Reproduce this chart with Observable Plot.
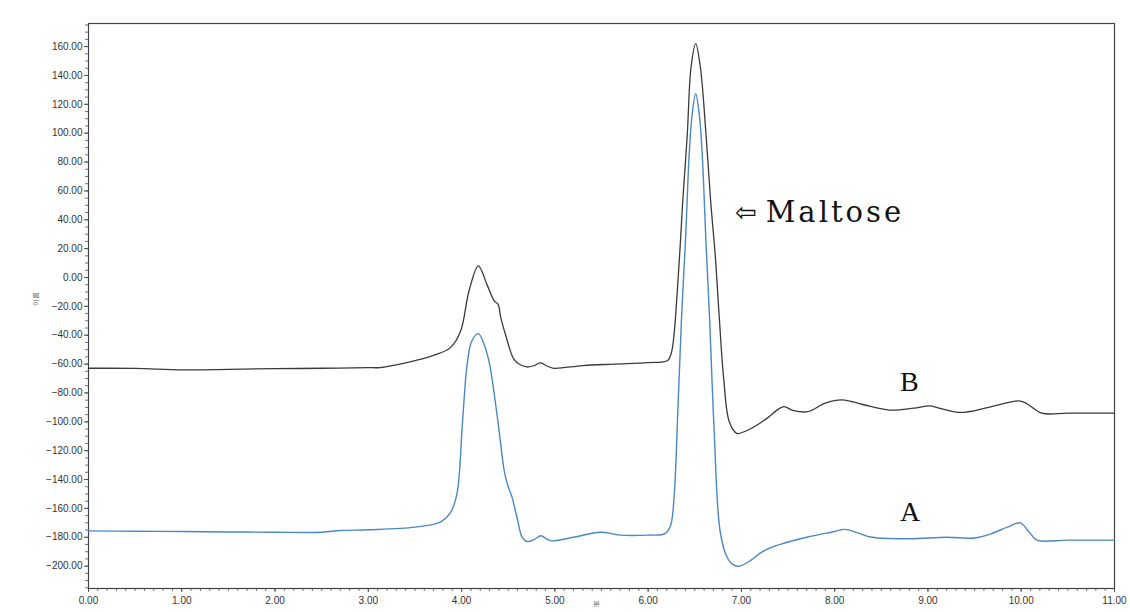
<!DOCTYPE html>
<html><head><meta charset="utf-8">
<script src="https://cdn.jsdelivr.net/npm/d3@7"></script>
<script src="https://cdn.jsdelivr.net/npm/@observablehq/plot@0.6"></script>
<style>body{margin:0;background:#fff;}</style>
</head><body><div id="chart"></div>
<script>
// Series B (black trace): retention time (min) and response
const timeB = [0, 0.5, 1.0, 1.5, 2.0, 2.5, 3.0, 3.13, 3.3, 3.49, 3.7, 3.88, 3.99, 4.08, 4.18, 4.27, 4.35, 4.39, 4.42, 4.48, 4.56, 4.63, 4.70, 4.78, 4.85, 4.92, 4.99, 5.3, 5.64, 6.0, 6.21, 6.25, 6.28, 6.31, 6.34, 6.37, 6.42, 6.46, 6.51, 6.56, 6.62, 6.67, 6.72, 6.76, 6.81, 6.87, 6.95, 7.06, 7.27, 7.40, 7.46, 7.55, 7.71, 7.90, 8.08, 8.30, 8.59, 8.85, 9.02, 9.15, 9.35, 9.65, 9.97, 10.05, 10.22, 10.5, 11.0];
const valB  = [-62.9, -63, -64, -63.6, -63.2, -62.9, -62.5, -62.4, -60.5, -57.8, -54, -48.6, -37, -9.2, 8.1, -4.6, -16.2, -18.5, -27.8, -41.6, -56.6, -60.5, -62, -61, -59.2, -61.5, -62.9, -61, -60, -59, -57.5, -52, -38, -12, 18, 52, 99.5, 145.7, 162, 145.7, 99.5, 53, 15, -25, -70, -100, -108, -106, -97.8, -91, -89.5, -92, -93, -87, -84.8, -88, -91.9, -90.5, -89, -91, -93.5, -90, -85.5, -87, -94, -94, -94];

// Series A (blue trace)
const timeA = [0, 0.5, 1.0, 1.5, 2.0, 2.5, 2.7, 3.0, 3.5, 3.77, 3.88, 3.95, 4.01, 4.06, 4.11, 4.18, 4.25, 4.30, 4.39, 4.46, 4.50, 4.54, 4.60, 4.65, 4.71, 4.78, 4.85, 4.92, 4.97, 5.2, 5.49, 5.7, 6.0, 6.18, 6.24, 6.28, 6.32, 6.36, 6.40, 6.44, 6.47, 6.51, 6.55, 6.58, 6.62, 6.66, 6.71, 6.77, 6.84, 6.91, 6.98, 7.1, 7.2, 7.32, 7.46, 7.7, 8.0, 8.11, 8.25, 8.4, 8.8, 9.2, 9.5, 9.68, 9.85, 9.99, 10.08, 10.17, 10.5, 11.0];
const valA  = [-175.6, -175.8, -176, -176.3, -176.5, -176.5, -175.3, -174.8, -173, -169.5, -163, -150, -100, -60, -44, -38.9, -48, -60, -100, -135, -145, -152, -168, -180, -183, -181.5, -179, -181.5, -182.5, -180, -176.5, -178.5, -178.5, -177.5, -172, -150, -90, -25, 25, 85, 112, 127.3, 112, 85, 25, -30, -110, -175, -193, -199, -200, -196, -191, -187, -184, -180, -176, -174.5, -177, -180, -181, -180, -180.5, -177.5, -173, -170, -176, -182, -182, -182];

// Axis ticks
const xTicks = [0, 1, 2, 3, 4, 5, 6, 7, 8, 9, 10, 11];
const yTicks = [-200, -180, -160, -140, -120, -100, -80, -60, -40, -20, 0, 20, 40, 60, 80, 100, 120, 140, 160];

// Annotations
const labelText = ["B", "A"];
const labelX = [8.80, 8.81];
const labelY = [-72.4, -162.6];
const arrowText = ["\u21E6"];
const arrowX = [6.93];
const noteText = ["Maltose"];
const noteX = [7.26];
const noteY = [44.9];
const xTitle = ["분"];
const yTitle = ["이름"];

const dataB = timeB.map((t, i) => ({t, v: valB[i]}));
const dataA = timeA.map((t, i) => ({t, v: valA[i]}));
const labels = labelText.map((s, i) => ({s, x: labelX[i], y: labelY[i]}));
const arrows = arrowText.map((s, i) => ({s, x: arrowX[i], y: noteY[i]}));
const notes = noteText.map((s, i) => ({s, x: noteX[i], y: noteY[i]}));

const xMinor = d3.range(0, 11.0001, 0.1).map(d => +d.toFixed(2));
const yMinor = d3.range(-215, 176, 5);

const chart = Plot.plot({
  width: 1130,
  height: 612,
  marginLeft: 88,
  marginRight: 16,
  marginTop: 23,
  marginBottom: 24,
  style: {fontFamily: "'Liberation Sans', Arial, sans-serif", fontSize: "10px", color: "#333", background: "#fff"},
  x: {domain: [0, 11]},
  y: {domain: [-215.5, 176]},
  marks: [
    Plot.axisX(xMinor, {tickSize: 3, text: null, stroke: "#777", strokeWidth: 1, label: null}),
    Plot.axisY(yMinor, {tickSize: 3, text: null, stroke: "#777", strokeWidth: 1, label: null}),
    Plot.axisX(xTicks, {tickSize: 4, tickPadding: 4, tickFormat: d3.format(".2f"), stroke: "#555", label: null, fontSize: 10}),
    Plot.axisY(yTicks, {tickSize: 4, tickPadding: 2, tickFormat: d3.format(".2f"), stroke: "#555", label: null, fontSize: 10}),
    Plot.text(xTitle, {x: 5.45, frameAnchor: "bottom", dy: 17, fontSize: 7, fill: "#555"}),
    Plot.text(yTitle, {y: -20, frameAnchor: "left", dx: -53, rotate: -90, fontSize: 7, fill: "#555"}),
    Plot.frame({stroke: "#444", strokeWidth: 1.2}),
    Plot.line(dataA, {x: "t", y: "v", curve: "catmull-rom", stroke: "#4a87c6", strokeWidth: 1.4}),
    Plot.line(dataB, {x: "t", y: "v", curve: "catmull-rom", stroke: "#3a3a3a", strokeWidth: 1.3}),
    Plot.text(labels, {x: "x", y: "y", text: "s", fontFamily: "'Liberation Serif', 'DejaVu Serif', serif", fontSize: 28, fill: "#111"}),
    Plot.text(arrows, {x: "x", y: "y", text: "s", textAnchor: "start", fontFamily: "'DejaVu Sans', sans-serif", fontSize: 26, fill: "#111"}),
    Plot.text(notes, {x: "x", y: "y", text: "s", textAnchor: "start", fontFamily: "'DejaVu Serif', serif", fontSize: 29, fill: "#111"})
  ]
});
d3.select(chart).selectAll("text").filter(function() { return this.textContent === "Maltose"; })
  .attr("letter-spacing", "3px");
document.getElementById("chart").appendChild(chart);
</script>
</body></html>
